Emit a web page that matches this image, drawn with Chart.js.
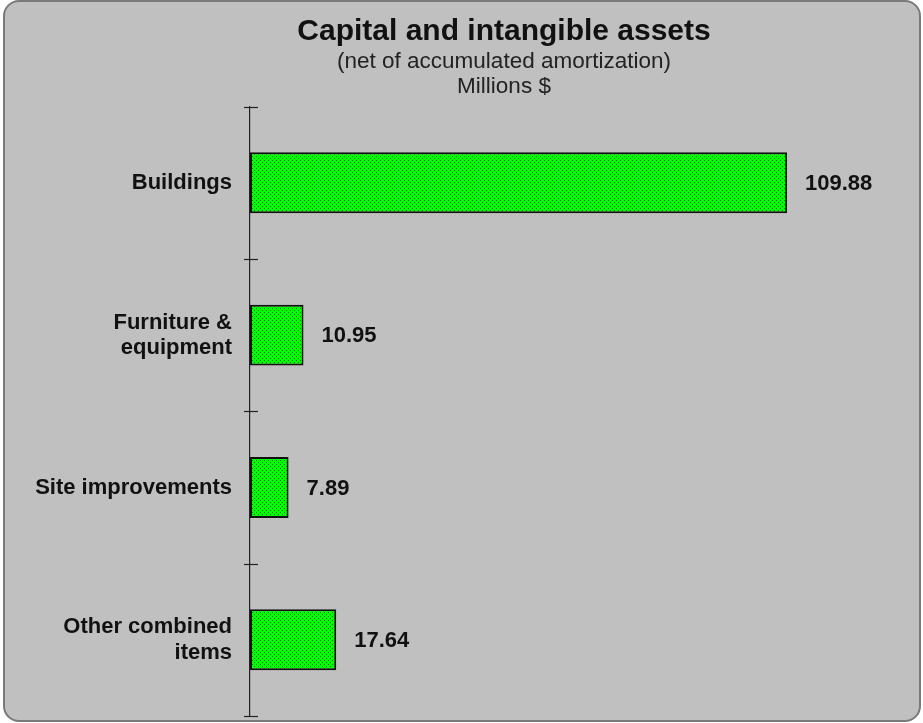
<!DOCTYPE html>
<html>
<head>
<meta charset="utf-8">
<script src="https://cdn.jsdelivr.net/npm/chart.js@4"></script>
<style>
  html, body { margin: 0; padding: 0; background: #ffffff; }
  #frame {
    position: absolute; left: 3px; top: 0px; width: 914px; height: 718px;
    background: #c0c0c0; border: 2px solid #7a7a7a; border-radius: 16px;
    overflow: hidden;
  }
  #wrap { position: absolute; left: -5px; top: -2px; width: 923px; height: 723px; }
</style>
</head>
<body>
<div id="frame"><div id="wrap"><canvas id="assetsChart" width="923" height="723"></canvas></div></div>
<script>
const categories = [['Buildings'], ['Furniture &', 'equipment'], ['Site improvements'], ['Other combined', 'items']];
const values = [109.88, 10.95, 7.89, 17.64];
const valueLabels = ['109.88', '10.95', '7.89', '17.64'];

document.addEventListener("DOMContentLoaded", function () {

    const FONT = '"Liberation Sans", Arial, sans-serif';

    // dotted green fill like the old office pattern
    function greenPattern() {
        const tile = document.createElement('canvas');
        tile.width = 4; tile.height = 4;
        const c = tile.getContext('2d');
        c.fillStyle = '#00ff00';
        c.fillRect(0, 0, 4, 4);
        c.fillStyle = '#008a00';
        c.fillRect(0, 0, 1, 1);
        c.fillRect(2, 2, 1, 1);
        return document.getElementById('assetsChart').getContext('2d').createPattern(tile, 'repeat');
    }

    // the titles in the original sit a bit right of the canvas centre
    const shiftTitles = {
        id: 'shiftTitles',
        afterLayout(chart) {
            chart.boxes.forEach(function (box) {
                if (box.position === 'top' && box.options && box.options.text) {
                    box.left += 49;
                    box.right += 49;
                }
            });
        }
    };

    // tick marks crossing the axis line at category boundaries
    const crossTicks = {
        id: 'crossTicks',
        afterDraw(chart) {
            const y = chart.scales.y;
            const ctx = chart.ctx;
            const marks = [y.top];
            for (let i = 1; i < categories.length; i++) {
                marks.push((y.getPixelForTick(i - 1) + y.getPixelForTick(i)) / 2);
            }
            marks.push(y.bottom);
            ctx.save();
            ctx.strokeStyle = '#222';
            ctx.lineWidth = 1.2;
            marks.forEach(function (p) {
                ctx.beginPath();
                ctx.moveTo(y.right - 6, Math.round(p) + 0.5);
                ctx.lineTo(y.right + 8, Math.round(p) + 0.5);
                ctx.stroke();
            });
            ctx.restore();
        }
    };

    // value labels at the end of each bar
    const barValues = {
        id: 'barValues',
        afterDatasetsDraw(chart) {
            const ctx = chart.ctx;
            const meta = chart.getDatasetMeta(0);
            ctx.save();
            ctx.font = 'bold 22px ' + FONT;
            ctx.fillStyle = '#111';
            ctx.textBaseline = 'middle';
            ctx.textAlign = 'left';
            meta.data.forEach(function (bar, i) {
                ctx.fillText(valueLabels[i], bar.x + 18, bar.y + 1);
            });
            ctx.restore();
        }
    };

    new Chart(document.getElementById('assetsChart'), {
        type: 'bar',
        data: {
            labels: categories,
            datasets: [{
                data: values,
                backgroundColor: greenPattern(),
                borderColor: '#111',
                borderWidth: 2,
                borderSkipped: false,
                categoryPercentage: 0.4,
                barPercentage: 1.0
            }]
        },
        options: {
            indexAxis: 'y',
            responsive: false,
            animation: false,
            layout: { padding: { left: 10, right: 23, top: 0, bottom: 7 } },
            plugins: {
                legend: { display: false },
                tooltip: { enabled: false },
                title: {
                    display: true,
                    text: 'Capital and intangible assets',
                    color: '#111',
                    font: { family: FONT, size: 30, weight: 'bold', lineHeight: 1.2 },
                    padding: { top: 14, bottom: 0 }
                },
                subtitle: {
                    display: true,
                    text: ['(net of accumulated amortization)', 'Millions $'],
                    color: '#222',
                    font: { family: FONT, size: 22.5, lineHeight: 1.08 },
                    padding: { top: 0, bottom: 8 }
                }
            },
            scales: {
                x: {
                    display: false,
                    min: 0,
                    max: 133
                },
                y: {
                    afterFit: function (scale) {
                        scale.width = 240;
                        scale.paddingTop = 0;
                        scale.paddingBottom = 0;
                    },
                    border: { display: true, color: '#222', width: 1.2 },
                    grid: { display: true, offset: true, drawOnChartArea: false, drawTicks: false },
                    ticks: {
                        padding: 18,
                        color: '#111',
                        font: { family: FONT, size: 22, weight: 'bold', lineHeight: 1.15 }
                    }
                }
            }
        },
        plugins: [shiftTitles, crossTicks, barValues]
    });
});
</script>
</body>
</html>
